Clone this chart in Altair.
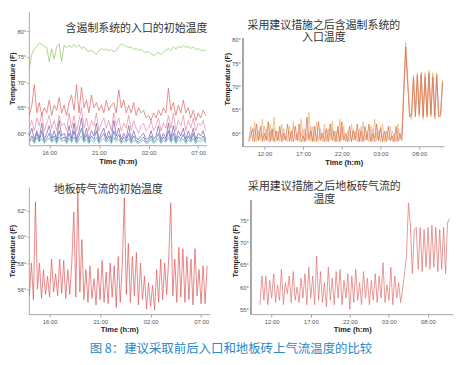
import altair as alt
import pandas as pd

# ---------------- data ----------------
# Panel 1: inlet temperatures with containment, initial (start 14:00, every 15 min)
p1_start, p1_step = 14.0, 0.25
p1_green = [72.5, 75.5, 76.5, 77.0, 77.6, 77.4, 77.0, 76.8,
            74.0, 76.5, 74.5, 77.0, 77.6, 74.0, 77.2, 76.8,
            77.2, 76.8, 77.4, 76.9, 77.3, 76.6, 76.9, 76.3,
            76.0, 76.3, 75.9, 75.4, 76.2, 76.6, 76.3, 76.5,
            76.1, 76.4, 76.0, 76.2, 77.0, 77.5, 77.3, 77.0,
            76.8, 76.9, 76.4, 76.6, 76.2, 76.5, 76.0, 75.8,
            76.0, 75.6, 75.2, 75.5, 75.8, 75.4, 75.9, 76.3,
            76.6, 76.2, 76.9, 76.5, 77.0, 76.7, 77.2, 76.8,
            77.0, 76.6, 76.9, 76.4, 76.6, 76.2, 76.3, 76.1]
p1_red = [63.5, 65.5, 69.5, 64.0, 66.0, 63.5, 65.0, 64.0,
          66.5, 63.5, 65.5, 64.5, 67.0, 64.0, 65.5, 63.5,
          66.0, 67.5, 64.5, 69.5, 64.0, 69.0, 65.0, 66.5,
          64.0, 67.5, 65.0, 66.0, 64.5, 65.5, 64.0, 66.5,
          64.5, 65.5, 66.0, 64.0, 68.5, 65.0, 66.5, 64.0,
          65.5, 64.0, 66.0, 63.5, 65.0, 64.0, 64.5, 63.0,
          63.5, 62.5, 64.0, 63.0, 64.5, 63.5, 65.0, 64.0,
          68.8, 64.5, 66.0, 63.5, 65.5, 64.0, 66.5, 64.0,
          65.0, 63.0, 64.5, 62.5, 64.0, 63.0, 64.5, 63.5]
p1_pink = [61.0, 62.5, 60.5, 63.0, 61.5, 64.0, 60.5, 62.0,
           63.5, 61.0, 62.5, 60.5, 63.5, 61.5, 62.0, 60.5,
           64.0, 61.0, 63.5, 60.5, 62.5, 65.0, 61.0, 63.0,
           60.5, 62.5, 61.5, 64.0, 60.5, 62.0, 63.0, 61.0,
           62.5, 60.5, 64.0, 61.5, 63.0, 60.5, 62.0, 61.0,
           63.5, 60.5, 62.5, 61.0, 60.0, 61.5, 62.0, 60.5,
           61.0, 62.5, 60.5, 61.5, 63.0, 60.5, 62.0, 61.0,
           63.5, 61.0, 64.0, 60.5, 62.5, 61.5, 63.5, 60.5,
           62.5, 61.0, 63.0, 60.5, 62.0, 61.5, 62.5, 60.5]
p1_purple = [59.5, 61.0, 58.8, 60.5, 59.0, 62.0, 58.8, 60.0,
             61.5, 59.0, 60.5, 58.8, 62.5, 59.5, 60.0, 58.8,
             61.5, 59.0, 62.0, 58.8, 60.5, 63.0, 59.0, 61.0,
             58.8, 60.5, 59.5, 62.0, 58.8, 60.0, 61.0, 59.0,
             60.5, 58.8, 62.5, 59.5, 61.0, 58.8, 60.0, 59.0,
             61.5, 58.8, 60.5, 59.0, 58.8, 59.5, 60.0, 58.8,
             59.0, 60.5, 58.8, 59.5, 61.5, 58.8, 60.0, 59.0,
             62.0, 59.0, 61.5, 58.8, 60.5, 59.5, 61.0, 58.8,
             60.5, 59.0, 61.0, 58.8, 60.0, 59.5, 60.5, 58.8]
p1_blue = [58.5, 59.5, 58.3, 60.0, 58.5, 60.5, 58.3, 59.0,
           60.0, 58.5, 59.5, 58.3, 60.5, 58.8, 59.3, 58.3,
           60.0, 58.5, 60.5, 58.3, 59.5, 61.0, 58.5, 59.8,
           58.3, 59.5, 58.8, 60.5, 58.3, 59.3, 60.0, 58.5,
           59.5, 58.3, 60.5, 58.8, 59.8, 58.3, 59.3, 58.5,
           60.0, 58.3, 59.5, 58.5, 58.3, 58.8, 59.3, 58.3,
           58.5, 59.5, 58.3, 58.8, 60.0, 58.3, 59.3, 58.5,
           60.5, 58.5, 60.0, 58.3, 59.5, 58.8, 59.8, 58.3,
           59.5, 58.5, 60.0, 58.3, 59.3, 58.8, 59.5, 58.3]
p1_teal = [58.2, 58.8, 58.0, 59.2, 58.3, 59.0, 58.0, 58.6,
           59.1, 58.2, 58.8, 58.0, 59.3, 58.4, 58.7, 58.0,
           59.0, 58.2, 59.3, 58.0, 58.8, 59.5, 58.2, 58.9,
           58.0, 58.7, 58.3, 59.2, 58.0, 58.6, 59.0, 58.2,
           58.8, 58.0, 59.2, 58.4, 58.9, 58.0, 58.6, 58.2,
           59.0, 58.0, 58.7, 58.2, 58.0, 58.4, 58.7, 58.0,
           58.2, 58.8, 58.0, 58.4, 59.0, 58.0, 58.6, 58.2,
           59.2, 58.2, 59.0, 58.0, 58.8, 58.4, 58.9, 58.0,
           58.7, 58.2, 59.0, 58.0, 58.6, 58.3, 58.8, 58.0]

# Panel 2: inlet temperatures with containment, after changes (start 10:00, every 15 min)
p2_start, p2_step = 10.0, 0.25
p2_orange = [58.5, 61.5, 58.2, 62.5, 58.2, 60.5, 58.5, 63.0,
             58.2, 61.0, 58.2, 62.0, 58.5, 63.5, 58.2, 60.5,
             58.2, 62.0, 58.5, 59.5, 58.2, 61.5, 58.2, 62.5,
             58.5, 60.0, 58.2, 63.0, 58.2, 61.0, 58.5, 64.5,
             58.2, 61.5, 58.2, 62.5, 58.5, 60.0, 58.2, 62.0,
             58.2, 61.0, 58.5, 62.5, 58.2, 60.5, 58.2, 63.0,
             58.5, 61.5, 58.2, 59.5, 58.2, 62.0, 58.5, 60.5,
             58.2, 61.0, 58.2, 62.5, 58.5, 60.0, 58.2, 61.5,
             58.2, 63.0, 58.5, 60.5, 58.2, 62.0, 58.2, 60.5,
             58.5, 61.5, 58.2, 60.0, 58.2, 62.0, 58.5, 60.5,
             70.0, 79.5, 72.0, 64.0, 63.0, 72.5, 64.0, 73.0,
             63.5, 72.5, 63.0, 73.0, 64.0, 73.5, 63.5, 72.5,
             63.0, 73.0, 64.0, 63.5, 71.5]
p2_red = [58.2, 59.5, 61.0, 58.2, 62.0, 58.5, 61.5, 58.2,
          60.0, 58.5, 62.5, 58.2, 61.0, 58.2, 60.5, 58.5,
          61.5, 58.2, 60.0, 58.5, 62.0, 58.2, 60.5, 58.2,
          61.5, 58.5, 62.0, 58.2, 59.5, 58.2, 63.5, 58.5,
          60.5, 58.2, 61.5, 58.2, 62.5, 58.5, 60.0, 58.2,
          61.0, 58.2, 62.0, 58.5, 60.5, 58.2, 61.5, 58.2,
          62.5, 58.5, 60.0, 58.2, 61.5, 58.2, 60.5, 58.5,
          62.0, 58.2, 60.5, 58.2, 61.5, 58.5, 62.0, 58.2,
          60.0, 58.2, 62.0, 58.5, 61.0, 58.2, 60.5, 58.2,
          61.5, 58.5, 59.5, 58.2, 61.5, 58.2, 60.0, 58.5,
          69.0, 78.5, 71.0, 63.5, 64.0, 72.0, 63.5, 72.5,
          64.0, 73.0, 63.5, 72.0, 63.5, 73.0, 64.0, 72.0,
          63.5, 72.5, 63.5, 64.0, 71.0]
p2_pink = [59.0, 60.5, 58.5, 61.0, 59.5, 58.5, 60.0, 59.0,
           61.5, 58.5, 59.5, 60.5, 58.5, 61.0, 59.5, 58.5,
           60.5, 59.0, 61.0, 58.5, 59.5, 60.5, 58.5, 61.5,
           59.0, 58.5, 60.5, 59.5, 61.0, 58.5, 60.0, 59.0,
           61.5, 58.5, 60.0, 59.5, 58.5, 61.0, 59.0, 60.5,
           58.5, 60.0, 59.5, 61.0, 58.5, 59.5, 60.5, 58.5,
           61.0, 59.0, 58.5, 60.5, 59.5, 58.5, 61.0, 59.0,
           60.0, 58.5, 61.5, 59.0, 58.5, 60.5, 59.5, 58.5,
           61.0, 59.0, 60.0, 58.5, 61.5, 59.0, 58.5, 60.5,
           59.0, 58.5, 60.5, 59.5, 58.5, 61.0, 59.0, 59.5,
           68.0, 77.5, 70.5, 64.5, 63.5, 71.5, 64.5, 72.0,
           64.0, 72.5, 64.0, 72.5, 64.5, 72.5, 64.0, 73.0,
           64.0, 72.0, 64.5, 64.0, 70.5]

# Panel 3: floor tile airflow, initial (start 14:00, every 12 min)
p3_start, p3_step = 14.0, 0.2
p3_tile = [55.5, 58.0, 55.2, 62.7, 56.0, 58.0, 55.3, 57.5, 55.6, 57.0,
           55.4, 58.3, 55.8, 57.2, 55.5, 58.3, 55.7, 58.2, 55.3, 57.5,
           55.6, 58.0, 61.9, 55.4, 63.5, 55.8, 59.8, 55.2, 57.5, 55.0,
           57.8, 55.3, 56.8, 54.8, 57.6, 55.2, 58.2, 55.0, 57.3, 54.9,
           58.0, 55.4, 57.8, 54.6, 58.5, 55.0, 57.9, 63.0, 55.6, 59.5,
           55.0, 58.5, 55.5, 58.8, 54.8, 58.0, 55.2, 57.0, 54.5, 56.5,
           54.7, 56.3, 54.4, 57.5, 55.0, 58.3, 55.2, 58.0, 55.6, 58.4,
           62.6, 55.5, 58.3, 55.0, 59.2, 55.4, 59.1, 55.0, 58.5, 55.2,
           58.3, 54.8, 59.1, 55.5, 57.5, 54.9, 57.8, 54.9, 57.8]

# Panel 4: floor tile airflow, after changes (start 10:30, every 15 min)
p4_start, p4_step = 10.5, 0.25
p4_tile = [56.0, 62.5, 57.0, 62.5, 56.0, 61.5, 57.5, 63.0,
           56.5, 60.5, 57.0, 64.0, 56.0, 61.0, 58.5, 62.5,
           56.5, 63.5, 57.0, 60.0, 56.5, 62.0, 57.5, 63.0,
           56.0, 64.5, 57.5, 62.5, 56.0, 67.0, 57.0, 63.5,
           56.5, 61.0, 55.5, 64.5, 57.0, 62.0, 56.0, 63.5,
           57.5, 64.0, 56.0, 61.5, 57.5, 63.0, 55.0, 62.5,
           56.5, 64.0, 57.0, 61.0, 56.0, 63.5, 57.5, 62.0,
           56.0, 61.5, 57.0, 63.0, 56.5, 62.5, 57.5, 65.5,
           56.5, 60.5, 57.0, 64.5, 56.0, 62.5, 57.5, 61.0,
           56.5, 59.5,
           63.0, 67.0, 79.0, 74.0, 63.0, 73.0, 73.5, 64.0,
           73.5, 63.5, 73.0, 64.5, 73.5, 64.0, 74.0, 64.5,
           73.5, 63.5, 73.0, 64.0, 73.5, 63.0, 74.5, 75.5]

titles = ["含遏制系统的入口的初始温度",
          ["采用建议措施之后含遏制系统的", "入口温度"],
          "地板砖气流的初始温度",
          ["采用建议措施之后地板砖气流的", "温度"]]
caption = "图 8：建议采取前后入口和地板砖上气流温度的比较"


def frame(start, step, series):
    rows = []
    for name, color, vals in series:
        for i, v in enumerate(vals):
            rows.append({"t": start + step * i, "temp": v, "series": name,
                         "col": color})
    return pd.DataFrame(rows)


CJK = "Noto Sans CJK SC"
LAB = "Liberation Sans"
AX = "#a8a8a8"
HOUR_EXPR = "(datum.value % 24 < 10 ? '0' : '') + (datum.value % 24) + ':00'"


def xaxis(vals):
    return alt.Axis(values=vals, labelExpr=HOUR_EXPR, title="Time (h:m)",
                    titleFont=LAB, titleFontWeight="bold", titleFontSize=7.5,
                    titleColor="#222", labelFont=LAB, labelFontSize=6,
                    labelColor="#555", tickSize=3, tickColor=AX,
                    domainColor=AX, grid=False, titlePadding=2,
                    labelPadding=1, labelOverlap=False)


def yaxis(vals, domain=True):
    return alt.Axis(values=vals, labelExpr="datum.value + '°'",
                    title="Temperature (F)", titleFont=LAB,
                    titleFontWeight="bold", titleFontSize=7,
                    titleColor="#222", labelFont=LAB, labelFontSize=6,
                    labelColor="#555", tickSize=2, tickColor=AX,
                    domain=domain, domainColor=AX, grid=False,
                    titlePadding=1, labelPadding=1, labelOverlap=False)


def panel(df, xdom, xvals, ydom, yvals, w, h, title, axis_span=None):
    yax = yaxis(yvals, domain=axis_span is None)
    yscale = alt.Scale(domain=ydom, nice=False, zero=False)
    lines = alt.Chart(df).mark_line(strokeWidth=0.85, opacity=0.85).encode(
        x=alt.X("t:Q", scale=alt.Scale(domain=xdom, nice=False), axis=xaxis(xvals)),
        y=alt.Y("temp:Q", scale=yscale, axis=yax),
        color=alt.Color("col:N", scale=None, legend=None),
        detail="series:N",
    )
    layers = [lines]
    if axis_span is not None:
        rule = alt.Chart(df).mark_rule(color=AX, strokeWidth=1).encode(
            x=alt.value(0),
            y=alt.YDatum(axis_span[0], scale=yscale, axis=yax),
            y2=alt.Y2Datum(axis_span[1]),
        )
        layers.append(rule)
    return alt.layer(*layers).properties(width=w, height=h, title=title)


df1 = frame(p1_start, p1_step, [("a_teal", "#5ab8a8", p1_teal),
                                ("b_blue", "#4a6fb8", p1_blue),
                                ("c_purple", "#7a5aa8", p1_purple),
                                ("d_pink", "#e888a8", p1_pink),
                                ("e_red", "#e36464", p1_red),
                                ("f_green", "#8cc866", p1_green)])
df2 = frame(p2_start, p2_step, [("a_pink", "#eaa8a8", p2_pink),
                                ("b_orange", "#f2b462", p2_orange),
                                ("c_red", "#d4705c", p2_red)])
df3 = frame(p3_start, p3_step, [("tile", "#e05c5c", p3_tile)])
df4 = frame(p4_start, p4_step, [("tile", "#e07272", p4_tile)])


def ttl(text, anchor, dx, offset, lh=12.5):
    return alt.TitleParams(text, font=CJK, fontSize=11, fontWeight="normal",
                           color="#333", anchor=anchor, dx=dx, offset=offset,
                           lineHeight=lh)


tl = panel(df1, [13.95, 31.85], [16, 21, 26, 31], [57.67, 83.9],
           [60, 65, 70, 75, 80], 179, 135, ttl(titles[0], "end", 0, -23))
tr = panel(df2, [9.3, 35.2], [12, 17, 22, 27, 32], [57.23, 86.17],
           [60, 65, 70, 75, 80], 202, 136, ttl(titles[1], "middle", -20, -32),
           axis_span=[57.23, 80.4])
bl = panel(df3, [13.95, 31.85], [16, 21, 26, 31], [54.1, 63.82],
           [56, 58, 60, 62], 182, 128, ttl(titles[2], "middle", -11, -8))
br = panel(df4, [9.4, 35.2], [12, 17, 22, 27, 32], [53.88, 82.64],
           [55, 60, 65, 70, 75], 203, 128, ttl(titles[3], "middle", -28, -18),
           axis_span=[53.88, 79.5])

chart = alt.vconcat(
    alt.hconcat(tl, tr, spacing=15),
    alt.hconcat(bl, br, spacing=21),
    spacing=15,
).properties(
    padding={"left": 0, "top": 2, "right": 0, "bottom": 0},
    title=alt.TitleParams(caption, orient="bottom", anchor="middle", font=CJK,
                          fontSize=12.5, fontWeight="normal", color="#2a88c8",
                          offset=10),
).configure_view(stroke=None)

chart.save("out.html", embed_options={"renderer": "svg", "actions": False})
